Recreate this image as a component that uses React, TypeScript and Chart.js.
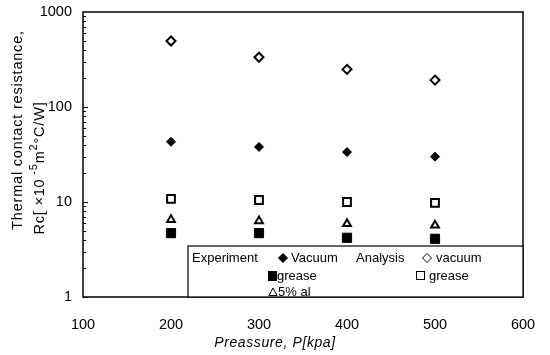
import { useEffect, useRef } from 'react';
import { Chart, registerables } from 'chart.js';

Chart.register(...registerables);

const FONT = "'Liberation Sans', Arial, sans-serif";

const pressures = [200, 300, 400, 500];
const expVacuum = [43, 38, 33.5, 30];
const expGrease = [4.7, 4.7, 4.2, 4.1];
const exp5Al = [6.5, 6.3, 5.9, 5.7];
const anaVacuum = [495, 334, 249, 192];
const anaGrease = [10.8, 10.5, 10.0, 9.8];

const yTickLabels = [1, 10, 100, 1000];
const xTickStep = 100;

const toPts = (ys: number[]) => pressures.map((x, i) => ({ x, y: ys[i] }));

function diamond(ctx: CanvasRenderingContext2D, x: number, y: number, r: number, fill: boolean) {
  ctx.beginPath();
  ctx.moveTo(x, y - r);
  ctx.lineTo(x + r, y);
  ctx.lineTo(x, y + r);
  ctx.lineTo(x - r, y);
  ctx.closePath();
  if (fill) ctx.fill();
  ctx.stroke();
}

const framePlugin = {
  id: 'frame',
  afterDraw(chart: any) {
    const { ctx, chartArea: a, scales } = chart;
    const ys = scales.y;
    ctx.save();
    ctx.strokeStyle = '#000';
    ctx.fillStyle = '#000';
    ctx.lineWidth = 1.5;
    ctx.strokeRect(a.left, a.top, a.right - a.left, a.bottom - a.top);
    ctx.lineWidth = 1;
    for (let d = 0; d < 3; d++) {
      for (let m = 1; m < 10; m++) {
        const v = Math.pow(10, d) * m;
        const py = Math.round(ys.getPixelForValue(v)) + 0.5;
        const len = m === 1 ? 5 : 3;
        ctx.beginPath();
        ctx.moveTo(a.left, py);
        ctx.lineTo(a.left + len, py);
        ctx.stroke();
      }
    }
    // axis titles
    ctx.textBaseline = 'middle';
    ctx.textAlign = 'left';
    (ctx as any).letterSpacing = '0.6px';
    ctx.font = `italic 14px ${FONT}`;
    const xt = 'Preassure, P[kpa]';
    const xw = ctx.measureText(xt).width;
    ctx.fillText(xt, 275 - xw / 2, 343);

    ctx.save();
    ctx.translate(18, 130);
    ctx.rotate(-Math.PI / 2);
    ctx.font = `14.5px ${FONT}`;
    (ctx as any).letterSpacing = '0.8px';
    const t1 = 'Thermal contact resistance,';
    const w1 = ctx.measureText(t1).width;
    ctx.fillText(t1, -w1 / 2, 0);
    ctx.restore();

    ctx.save();
    ctx.translate(40, 168);
    ctx.rotate(-Math.PI / 2);
    (ctx as any).letterSpacing = '0.8px';
    const parts: [string, boolean][] = [
      ['Rc[ ×10', false],
      [' -5', true],
      ['m', false],
      ['2', true],
      ['°C/W]', false],
    ];
    let total = 0;
    const widths = parts.map(([t, sup]) => {
      ctx.font = sup ? `11px ${FONT}` : `14.5px ${FONT}`;
      const w = ctx.measureText(t).width;
      total += w;
      return w;
    });
    let cx = -total / 2;
    parts.forEach(([t, sup], i) => {
      ctx.font = sup ? `11px ${FONT}` : `14.5px ${FONT}`;
      ctx.fillText(t, cx, sup ? -6 : 0);
      cx += widths[i];
    });
    ctx.restore();
    (ctx as any).letterSpacing = '0px';

    // legend box
    const bl = 188, bt = 246;
    ctx.fillStyle = '#fff';
    ctx.fillRect(bl, bt, a.right - bl, a.bottom - bt);
    ctx.strokeStyle = '#000';
    ctx.lineWidth = 1.2;
    ctx.strokeRect(bl, bt, a.right - bl, a.bottom - bt);
    ctx.fillStyle = '#000';
    ctx.font = `13px ${FONT}`;
    const l1 = 258, l2 = 276, l3 = 292;
    ctx.fillText('Experiment', 192, l1);
    ctx.lineWidth = 1;
    diamond(ctx, 283, l1, 4.5, true);
    ctx.fillText('Vacuum', 291, l1);
    ctx.fillText('Analysis', 356, l1);
    ctx.fillStyle = '#fff';
    diamond(ctx, 427, l1, 4.5, true);
    ctx.fillStyle = '#000';
    ctx.fillText('vacuum', 436, l1);
    ctx.fillRect(268, l2 - 5, 9, 10);
    ctx.fillText('grease', 277, l2);
    ctx.strokeRect(416.5, l2 - 4.5, 8, 8);
    ctx.fillText('grease', 429, l2);
    ctx.beginPath();
    ctx.moveTo(273, l3 - 4);
    ctx.lineTo(277, l3 + 3.5);
    ctx.lineTo(269, l3 + 3.5);
    ctx.closePath();
    ctx.stroke();
    ctx.fillText('5% al', 278, l3);
    ctx.restore();
  },
};

export default function App() {
  const ref = useRef<HTMLCanvasElement>(null);
  useEffect(() => {
    if (!ref.current) return;
    Chart.defaults.color = '#000';
    const chart = new Chart(ref.current, {
      type: 'scatter',
      data: {
        datasets: [
          {
            label: 'Experiment Vacuum',
            data: toPts(expVacuum),
            pointStyle: 'rectRot',
            pointRadius: 4.5,
            backgroundColor: '#000',
            borderColor: '#000',
            borderWidth: 1,
          },
          {
            label: 'Experiment grease',
            data: toPts(expGrease),
            pointStyle: 'rect',
            pointRadius: 6.5,
            backgroundColor: '#000',
            borderColor: '#000',
            borderWidth: 1,
          },
          {
            label: 'Experiment 5% al',
            data: toPts(exp5Al),
            pointStyle: 'triangle',
            pointRadius: 4.5,
            backgroundColor: '#fff',
            borderColor: '#000',
            borderWidth: 2,
          },
          {
            label: 'Analysis vacuum',
            data: toPts(anaVacuum),
            pointStyle: 'rectRot',
            pointRadius: 4.5,
            backgroundColor: '#fff',
            borderColor: '#000',
            borderWidth: 2,
          },
          {
            label: 'Analysis grease',
            data: toPts(anaGrease),
            pointStyle: 'rect',
            pointRadius: 5.5,
            backgroundColor: '#fff',
            borderColor: '#000',
            borderWidth: 2,
          },
        ],
      },
      options: {
        animation: false,
        responsive: true,
        maintainAspectRatio: false,
        layout: { padding: { top: 12, right: 27, left: 0, bottom: 0 } },
        plugins: { legend: { display: false }, tooltip: { enabled: false } },
        scales: {
          x: {
            type: 'linear',
            min: 100,
            max: 600,
            ticks: { stepSize: xTickStep, padding: 11, maxRotation: 0, font: { family: FONT, size: 14.5 }, color: '#000' },
            grid: { display: false },
            border: { display: false },
            title: { display: false },
            afterFit: (s: any) => { s.height = 58; s.paddingLeft = 0; s.paddingRight = 0; },
          },
          y: {
            type: 'logarithmic',
            min: 1,
            max: 1000,
            ticks: {
              autoSkip: false,
              padding: 3,
              color: '#000',
              font: { family: FONT, size: 14.5 },
              callback: (v: any) => (yTickLabels.includes(Number(v)) ? String(v) : ''),
            },
            grid: { display: false },
            border: { display: false },
            title: { display: false },
            afterFit: (s: any) => { s.width = 83; s.paddingTop = 0; s.paddingBottom = 0; },
          },
        },
      },
      plugins: [framePlugin],
    });
    return () => chart.destroy();
  }, []);
  return (
    <div style={{ position: 'absolute', left: 0, top: 0, width: 550, height: 355, background: '#fff' }}>
      <canvas ref={ref} />
    </div>
  );
}
